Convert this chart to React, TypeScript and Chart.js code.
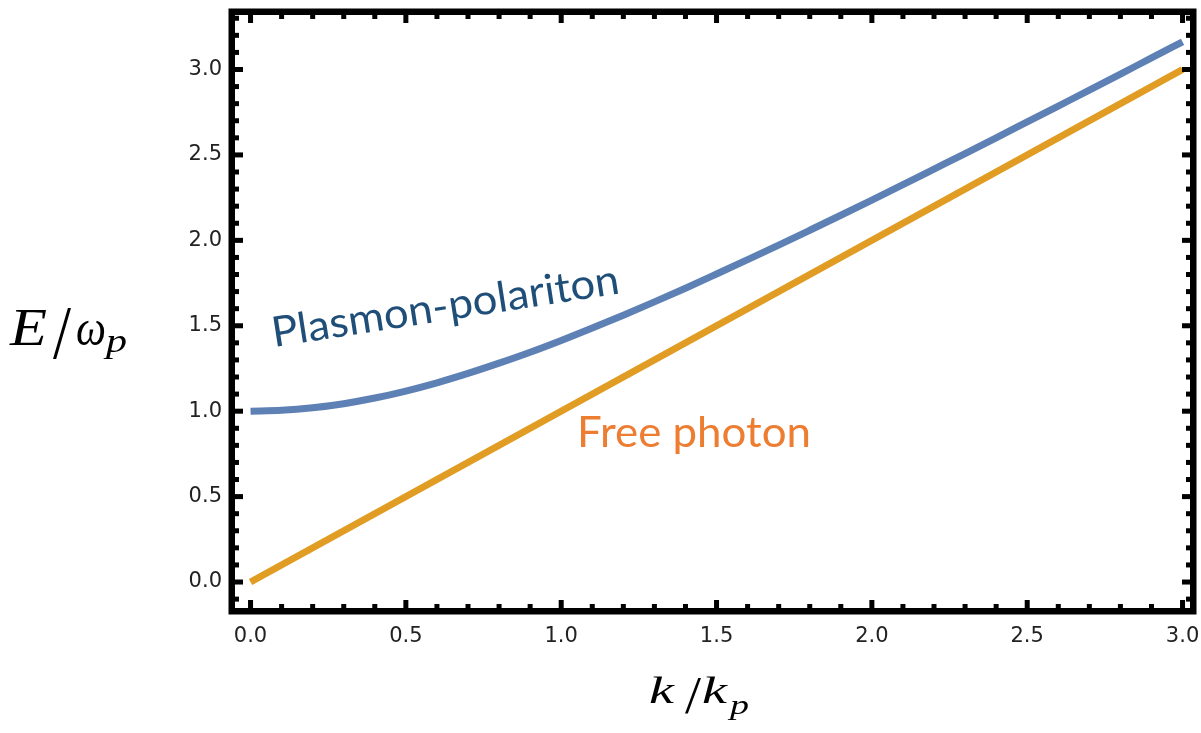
import React, { useEffect, useRef } from "react";
import { Chart, registerables } from "chart.js";

Chart.register(...registerables);

// wave number k / k_p
const kValues = [
  0.0, 0.1, 0.2, 0.3, 0.4, 0.5, 0.6, 0.7, 0.8, 0.9, 1.0, 1.1, 1.2, 1.3, 1.4, 1.5,
  1.6, 1.7, 1.8, 1.9, 2.0, 2.1, 2.2, 2.3, 2.4, 2.5, 2.6, 2.7, 2.8, 2.9, 3.0,
];
// plasmon-polariton branch E / omega_p
const polaritonE = [
  1.0, 1.005, 1.02, 1.044, 1.077, 1.118, 1.166, 1.221, 1.281, 1.345, 1.414, 1.487,
  1.562, 1.64, 1.72, 1.803, 1.887, 1.972, 2.059, 2.147, 2.236, 2.326, 2.417, 2.508,
  2.6, 2.693, 2.786, 2.879, 2.973, 3.068, 3.162,
];
// free photon line
const photonK = [0.0, 3.0];
const photonE = [0.0, 3.0];

// axis ticks
const xMajorTicks = [0.0, 0.5, 1.0, 1.5, 2.0, 2.5, 3.0];
const yMajorTicks = [0.0, 0.5, 1.0, 1.5, 2.0, 2.5, 3.0];
const xMinorTicks = [
  0.1, 0.2, 0.3, 0.4, 0.6, 0.7, 0.8, 0.9, 1.1, 1.2, 1.3, 1.4, 1.6, 1.7, 1.8, 1.9,
  2.1, 2.2, 2.3, 2.4, 2.6, 2.7, 2.8, 2.9,
];
const yMinorTicks = [
  -0.1, 0.1, 0.2, 0.3, 0.4, 0.6, 0.7, 0.8, 0.9, 1.1, 1.2, 1.3, 1.4, 1.6, 1.7, 1.8,
  1.9, 2.1, 2.2, 2.3, 2.4, 2.6, 2.7, 2.8, 2.9, 3.1, 3.2, 3.3,
];

const X_MIN = -0.05;
const X_MAX = 3.024;
const Y_MIN = -0.152;
const Y_MAX = 3.319;

const framePlugin = {
  id: "mmaFrame",
  afterDraw(chart: any) {
    const { ctx, chartArea } = chart;
    const { left, right, top, bottom } = chartArea;
    const xs = chart.scales.x;
    const ys = chart.scales.y;
    ctx.save();
    ctx.fillStyle = "#000";
    const majLen = 8;
    const minLen = 4;
    const tw = 5;
    const drawX = (v: number, len: number) => {
      const px = xs.getPixelForValue(v);
      ctx.fillRect(px - tw / 2, bottom - len, tw, len);
      ctx.fillRect(px - tw / 2, top, tw, len);
    };
    const drawY = (v: number, len: number) => {
      const py = ys.getPixelForValue(v);
      ctx.fillRect(left, py - tw / 2, len, tw);
      ctx.fillRect(right - len, py - tw / 2, len, tw);
    };
    xMajorTicks.forEach((v) => drawX(v, majLen));
    xMinorTicks.forEach((v) => drawX(v, minLen));
    yMajorTicks.forEach((v) => drawY(v, majLen));
    yMinorTicks.forEach((v) => drawY(v, minLen));
    ctx.strokeStyle = "#000";
    ctx.lineWidth = 6.5;
    ctx.strokeRect(left - 3.25, top - 3.25, right - left + 6.5, bottom - top + 6.5);
    ctx.restore();
  },
};

const fitText = (
  ctx: CanvasRenderingContext2D,
  text: string,
  x: number,
  y: number,
  width: number,
  angleDeg: number,
  font: string,
  color: string
) => {
  ctx.save();
  ctx.font = font;
  ctx.fillStyle = color;
  ctx.textBaseline = "alphabetic";
  ctx.textAlign = "left";
  const w = ctx.measureText(text).width;
  ctx.translate(x, y);
  ctx.rotate((angleDeg * Math.PI) / 180);
  ctx.scale(width / w, 1);
  ctx.fillText(text, 0, 0);
  ctx.restore();
};

const piece = (
  ctx: CanvasRenderingContext2D,
  text: string,
  x: number,
  y: number,
  size: number,
  italic: boolean,
  width: number
) => {
  fitText(
    ctx,
    text,
    x,
    y,
    width,
    0,
    `${italic ? "italic " : ""}${size}px "Liberation Serif"`,
    "#000"
  );
};

const labelPlugin = {
  id: "labels",
  afterDraw(chart: any) {
    const ctx = chart.ctx as CanvasRenderingContext2D;
    fitText(ctx, "Plasmon-polariton", 274, 347, 351, -8.8, '42px "Lato"', "#1F4E79");
    fitText(ctx, "Free photon", 577, 447, 234, 0, '42px "Lato"', "#ED7D31");

    // y axis title  E/ω_p
    piece(ctx, "E", 10, 345, 53, true, 37);
    piece(ctx, "/", 53, 358, 76, false, 18);
    piece(ctx, "ω", 76, 345, 50, true, 30);
    piece(ctx, "p", 106, 352, 34, true, 21);
    // x axis title  k/k_p
    piece(ctx, "k", 649, 703, 38, true, 25);
    piece(ctx, "/", 685, 713, 52, false, 16);
    piece(ctx, "k", 702, 703, 38, true, 25);
    piece(ctx, "p", 730, 714, 27, true, 19);
  },
};

export default function App() {
  const ref = useRef<HTMLCanvasElement | null>(null);

  useEffect(() => {
    if (!ref.current) return;
    const polariton = kValues.map((k, i) => ({ x: k, y: polaritonE[i] }));
    const photon = photonK.map((k, i) => ({ x: k, y: photonE[i] }));
    const tickFont = { family: '"DejaVu Sans"', size: 21 };
    const zeroPad = (s: any) => {
      s.paddingLeft = 0;
      s.paddingRight = 0;
      s.paddingTop = 0;
      s.paddingBottom = 0;
    };
    const chart = new Chart(ref.current, {
      type: "line",
      data: {
        datasets: [
          {
            label: "Plasmon-polariton",
            data: polariton,
            borderColor: "#5E81B5",
            borderWidth: 7,
            pointRadius: 0,
            cubicInterpolationMode: "monotone",
            borderCapStyle: "butt",
            fill: false,
          },
          {
            label: "Free photon",
            data: photon,
            borderColor: "#E19C24",
            borderWidth: 7,
            pointRadius: 0,
            borderCapStyle: "butt",
            fill: false,
          },
        ],
      },
      options: {
        animation: false,
        responsive: false,
        devicePixelRatio: 1,
        layout: { padding: { top: 15, right: 11, left: 0, bottom: 0 } },
        plugins: {
          legend: { display: false },
          tooltip: { enabled: false },
          title: { display: false },
        },
        scales: {
          x: {
            type: "linear",
            min: X_MIN,
            max: X_MAX,
            afterBuildTicks: (s: any) => {
              s.ticks = xMajorTicks.map((v) => ({ value: v }));
            },
            afterFit: (s: any) => {
              s.height = 125;
              zeroPad(s);
            },
            grid: { display: false, drawTicks: false },
            border: { display: false },
            ticks: {
              callback: (v: any) => Number(v).toFixed(1),
              font: tickFont,
              color: "#222",
              padding: 16,
              maxRotation: 0,
              autoSkip: false,
            },
          },
          y: {
            type: "linear",
            min: Y_MIN,
            max: Y_MAX,
            afterBuildTicks: (s: any) => {
              s.ticks = yMajorTicks.map((v) => ({ value: v }));
            },
            afterFit: (s: any) => {
              s.width = 235;
              zeroPad(s);
            },
            grid: { display: false, drawTicks: false },
            border: { display: false },
            ticks: {
              callback: (v: any) => Number(v).toFixed(1),
              font: tickFont,
              color: "#222",
              padding: 13,
              autoSkip: false,
            },
          },
        },
      },
      plugins: [framePlugin, labelPlugin],
    } as any);
    return () => chart.destroy();
  }, []);

  return (
    <div style={{ position: "absolute", left: 0, top: 0, width: 1201, height: 733, background: "#fff" }}>
      <canvas ref={ref} width={1201} height={733} style={{ display: "block" }} />
    </div>
  );
}
